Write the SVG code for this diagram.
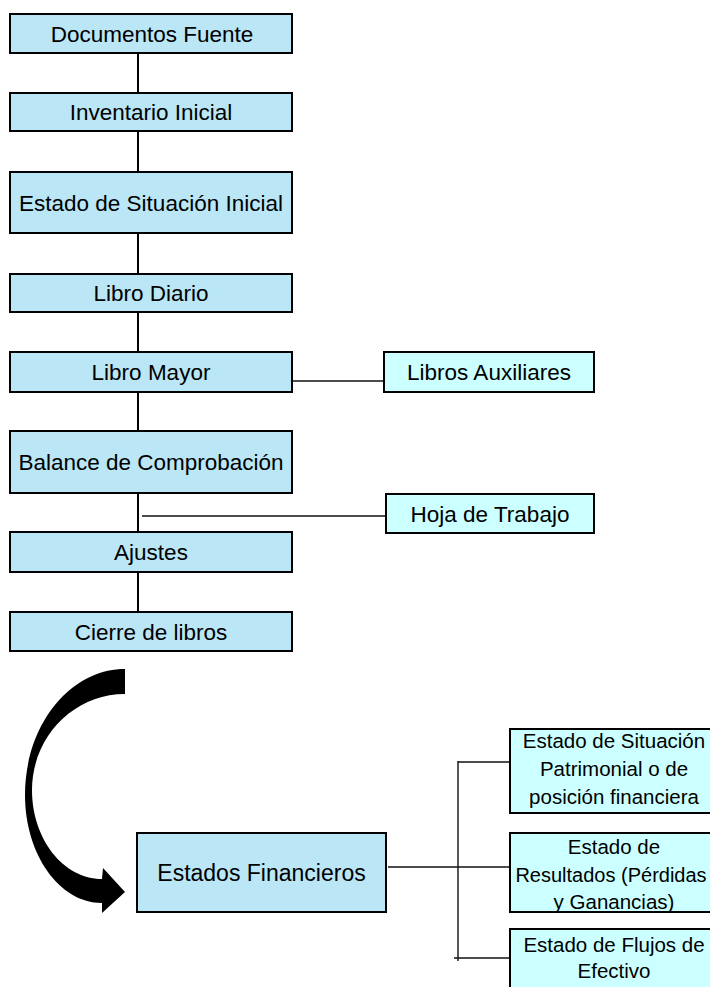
<svg xmlns="http://www.w3.org/2000/svg" width="710" height="987" viewBox="0 0 710 987">
<style>
.box{fill:#BAE6F6;stroke:#000;stroke-width:2}
.box2{fill:#CCFFFF;stroke:#000;stroke-width:2}
.t{font-family:"Liberation Sans",Arial,sans-serif;font-size:22.5px;fill:#000;text-anchor:middle}
.s{font-family:"Liberation Sans",Arial,sans-serif;font-size:20.5px;fill:#000;text-anchor:middle}
.main{stroke:#000;stroke-width:2;fill:none}
.thin{stroke:#111;stroke-width:1.4;fill:none}
</style>
<rect width="710" height="987" fill="#fff"/>
<g id="connectors">
<line class="main" x1="138" y1="53" x2="138" y2="612"/>
<line class="thin" x1="292" y1="381" x2="384" y2="381"/>
<line class="thin" x1="142" y1="516" x2="386" y2="516"/>
<line class="thin" x1="388" y1="867" x2="510" y2="867"/>
<line class="thin" x1="458" y1="761" x2="458" y2="961"/>
<line class="thin" x1="458" y1="762" x2="510" y2="762"/>
<line class="thin" x1="454" y1="958" x2="510" y2="958"/>
<path id="curved-arrow" fill="#000" d="M125 669 C69.8 669 25 725.4 25 795 C25 854.6 59.5 903 102 903 L102 913 L125 892 L103 868 L102 879 C63.4 879 32 839 32 790 C32 737 73.7 694 125 694 Z"/>
</g>
<g id="n1"><rect class="box" x="10" y="14" width="282" height="39"/><text class="t" x="152" y="41.5">Documentos Fuente</text></g>
<g id="n2"><rect class="box" x="10" y="93" width="282" height="38"/><text class="t" x="151" y="120">Inventario Inicial</text></g>
<g id="n3"><rect class="box" x="10" y="172" width="282" height="61"/><text class="t" x="151" y="210.5">Estado de Situación Inicial</text></g>
<g id="n4"><rect class="box" x="10" y="274" width="282" height="38"/><text class="t" x="151" y="301">Libro Diario</text></g>
<g id="n5"><rect class="box" x="10" y="352" width="282" height="40"/><text class="t" x="151" y="380">Libro Mayor</text></g>
<g id="n6"><rect class="box" x="10" y="431" width="282" height="62"/><text class="t" x="151" y="470">Balance de Comprobación</text></g>
<g id="n7"><rect class="box" x="10" y="532" width="282" height="40"/><text class="t" x="151" y="560">Ajustes</text></g>
<g id="n8"><rect class="box" x="10" y="612" width="282" height="39"/><text class="t" x="151" y="639.5">Cierre de libros</text></g>
<g id="n9"><rect class="box2" x="384" y="352" width="210" height="40"/><text class="t" x="489" y="380">Libros Auxiliares</text></g>
<g id="n10"><rect class="box2" x="386" y="494" width="208" height="39"/><text class="t" x="490" y="521.5">Hoja de Trabajo</text></g>
<g id="n11"><rect class="box" x="137" y="833" width="249" height="79"/><text class="t" x="261.5" y="880.5" style="font-size:23px">Estados Financieros</text></g>
<g id="n12"><rect class="box2" x="510" y="729" width="208" height="84"/><text class="s" x="614" y="748">Estado de Situación</text><text class="s" x="614" y="776">Patrimonial o de</text><text class="s" x="614" y="803.5">posición financiera</text></g>
<g id="n13"><rect class="box2" x="510" y="833" width="208" height="79"/><text class="s" x="614" y="854">Estado de</text><text class="s" x="611" y="881.5" style="font-size:20px">Resultados (Pérdidas</text><text class="s" x="614" y="908.5">y Ganancias)</text></g>
<g id="n14"><rect class="box2" x="510" y="929" width="208" height="80"/><text class="s" x="614" y="952">Estado de Flujos de</text><text class="s" x="614" y="978">Efectivo</text></g>
</svg>
